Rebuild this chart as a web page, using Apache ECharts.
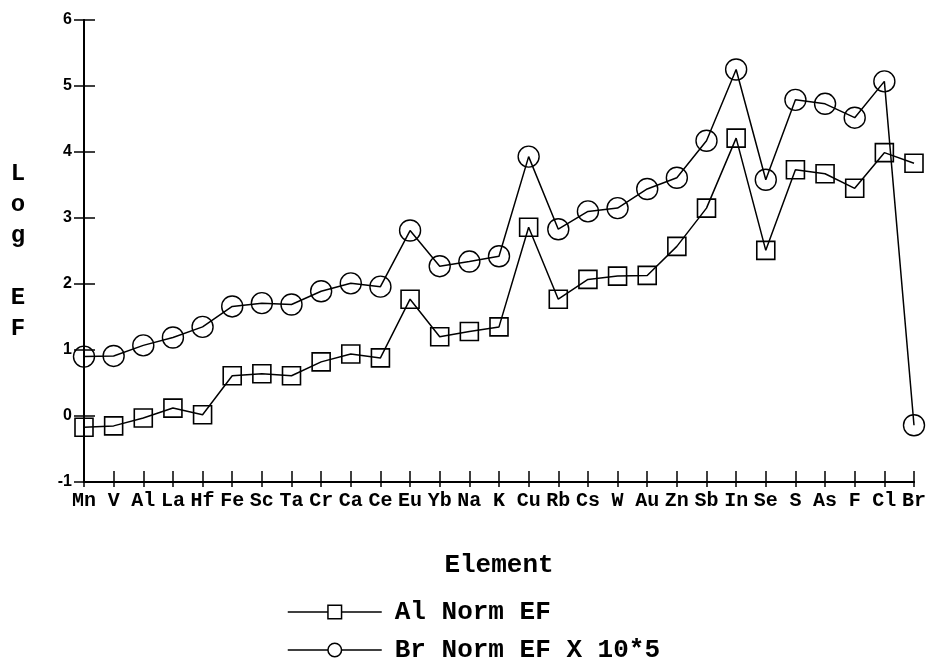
<!DOCTYPE html>
<html>
<head>
<meta charset="utf-8">
<script src="https://cdn.jsdelivr.net/npm/echarts@6/dist/echarts.min.js"></script>
<style>
  html, body { margin: 0; padding: 0; background: #fff; }
  #chart { width: 929px; height: 670px; }
</style>
</head>
<body>
<div id="chart"></div>
<script>
// Elements along the x axis
const elements = ['Mn','V','Al','La','Hf','Fe','Sc','Ta','Cr','Ca','Ce','Eu','Yb','Na','K',
  'Cu','Rb','Cs','W','Au','Zn','Sb','In','Se','S','As','F','Cl','Br'];

// Log enrichment factor, aluminium-normalised
const alNormEF = [-0.17,-0.15,-0.03,0.12,0.02,0.61,0.64,0.61,0.82,0.94,0.88,1.77,1.20,1.28,1.35,
  2.86,1.77,2.07,2.12,2.13,2.57,3.15,4.21,2.51,3.73,3.67,3.45,3.99,3.83];

// Log enrichment factor, bromine-normalised (x 10^5)
const brNormEF = [0.90,0.91,1.07,1.19,1.35,1.66,1.71,1.69,1.89,2.01,1.96,2.81,2.27,2.34,2.42,
  3.93,2.83,3.10,3.15,3.44,3.61,4.17,5.25,3.58,4.79,4.73,4.52,5.07,-0.14];

const yTicks = { min: -1, max: 6, step: 1 };
const seriesNames = ['Al Norm EF', 'Br Norm EF X 10*5'];

const chart = echarts.init(document.getElementById('chart'), null, { renderer: 'canvas' });

const monoBold = { fontFamily: 'Liberation Mono', fontWeight: 'bold', color: '#000' };
const grid = { left: 84, right: 15, top: 20, bottom: 188 };

const xBase = {
  type: 'category',
  data: elements,
  boundaryGap: false,
  position: 'bottom',
  axisLine: { onZero: false, lineStyle: { color: '#000', width: 2 } },
  splitLine: { show: false }
};
const yBase = {
  type: 'value',
  min: yTicks.min,
  max: yTicks.max,
  interval: yTicks.step,
  position: 'left',
  axisLine: { show: true, onZero: false, lineStyle: { color: '#000', width: 2 } },
  splitLine: { show: false }
};

chart.setOption({
  animation: false,
  backgroundColor: '#fff',
  grid: grid,
  xAxis: [
    Object.assign({}, xBase, {
      name: 'Element',
      nameLocation: 'middle',
      nameGap: 70,
      nameTextStyle: Object.assign({}, monoBold, { fontSize: 26 }),
      axisTick: { show: true, inside: false, length: 5, alignWithLabel: true, lineStyle: { color: '#000', width: 1.5 } },
      axisLabel: Object.assign({}, monoBold, { fontSize: 20, interval: 0, margin: 9 })
    }),
    Object.assign({}, xBase, {
      axisTick: { show: true, inside: true, length: 11, lineStyle: { color: '#000', width: 1.5 } },
      axisLabel: { show: false }
    })
  ],
  yAxis: [
    Object.assign({}, yBase, {
      name: 'L\no\ng\n\nE\nF',
      nameLocation: 'middle',
      nameRotate: 0,
      nameGap: 66,
      nameTextStyle: Object.assign({}, monoBold, { fontSize: 24, lineHeight: 31, align: 'center', verticalAlign: 'middle' }),
      axisTick: { show: true, inside: false, length: 10, lineStyle: { color: '#000', width: 1.5 } },
      axisLabel: { fontFamily: 'Liberation Sans', fontWeight: 'bold', fontSize: 16, color: '#000', margin: 12 }
    }),
    Object.assign({}, yBase, {
      axisTick: { show: true, inside: true, length: 11, lineStyle: { color: '#000', width: 1.5 } },
      axisLabel: { show: false }
    })
  ],
  legend: {
    orient: 'vertical',
    left: 287,
    top: 598,
    padding: 0,
    itemWidth: 94,
    itemHeight: 17,
    itemGap: 10,
    data: seriesNames,
    itemStyle: { color: '#fff', borderColor: '#000', borderWidth: 1.5 },
    lineStyle: { color: '#000', width: 1.5 },
    textStyle: Object.assign({}, monoBold, { fontSize: 26, lineHeight: 28, padding: [0, 0, 0, 8] })
  },
  series: [
    {
      name: seriesNames[0],
      type: 'line',
      data: alNormEF,
      symbol: 'rect',
      symbolSize: 18,
      lineStyle: { color: '#000', width: 1.5 },
      itemStyle: { color: 'rgba(0,0,0,0)', borderColor: '#000', borderWidth: 1.6 },
      emphasis: { disabled: true }
    },
    {
      name: seriesNames[1],
      type: 'line',
      data: brNormEF,
      symbol: 'circle',
      symbolSize: 21,
      lineStyle: { color: '#000', width: 1.5 },
      itemStyle: { color: 'rgba(0,0,0,0)', borderColor: '#000', borderWidth: 1.4 },
      emphasis: { disabled: true }
    }
  ]
});
</script>
</body>
</html>
